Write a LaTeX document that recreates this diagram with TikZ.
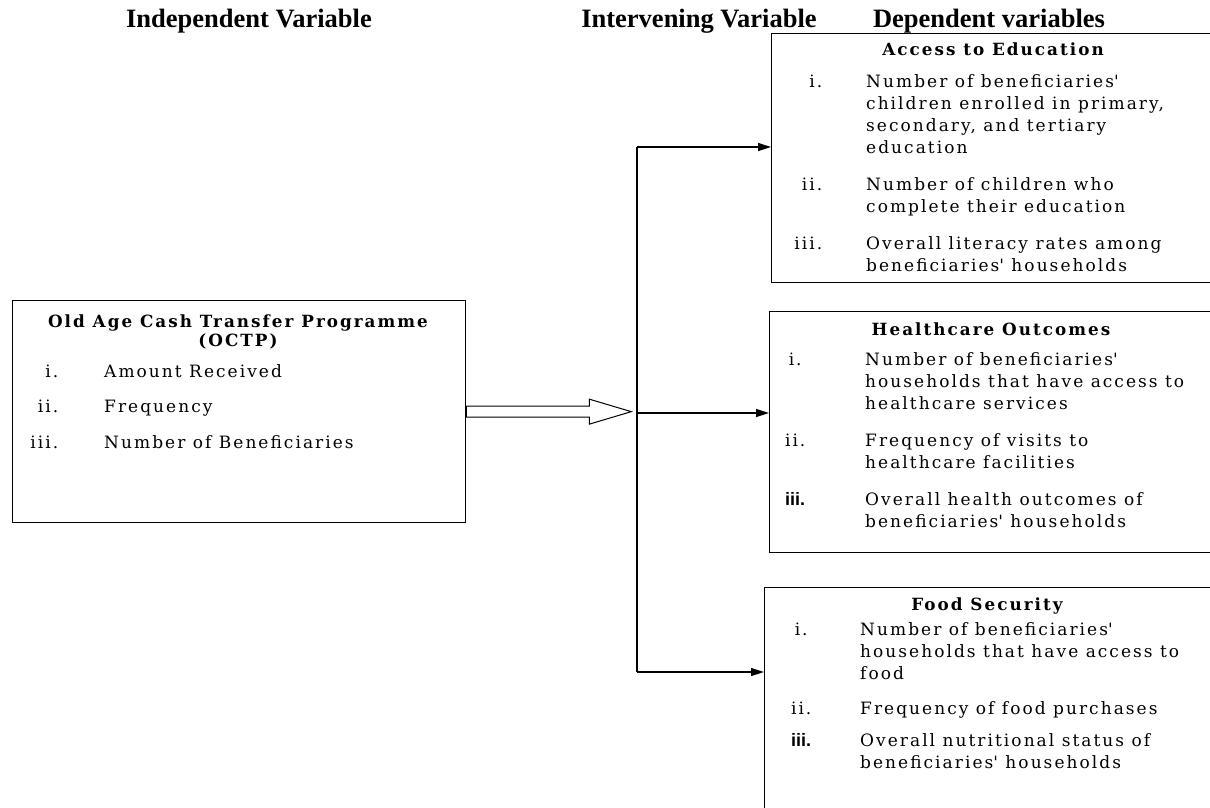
\documentclass[tikz,border=0pt]{standalone}
\usepackage{fontspec}
\setmainfont{Liberation Serif}
\newfontfamily\boxfont[LetterSpace=12]{DejaVu Serif}
\newfontfamily\numfont{Liberation Sans}
\usetikzlibrary{positioning,arrows.meta}

\newcommand{\lbl}[2][r]{\makebox[30pt][#1]{#2}}
\newcommand{\boldlbl}[1]{\makebox[30pt][c]{\numfont\bfseries\fontsize{18}{22}\selectfont #1}}
\newcommand{\apos}{\textquotesingle}

\begin{document}
\begin{tikzpicture}[x=1pt, y=-1pt,
    heading/.style={font=\fontsize{26.5}{30}\selectfont\bfseries, anchor=base, inner sep=0pt},
    varbox/.style={draw, line width=1.3pt, anchor=north west, inner sep=0pt},
    boxhead/.style={font=\boxfont\bfseries\fontsize{16.8}{19}\selectfont, anchor=base, inner sep=0pt},
    itemlist/.style={font=\boxfont\fontsize{17}{22}\selectfont, anchor=base west, inner sep=0pt},
    link/.style={line width=1.3pt, -{Triangle[length=13pt,width=8pt]}},
    trunk/.style={line width=1.3pt},
    fatarrow/.style={line width=1pt, fill=white}]
\clip (0,0) rectangle (1210,807);

% headings
\node[heading] (indep) at (249,27) {Independent Variable};
\node[heading] (interv) at (699,27) {Intervening Variable};
\node[heading] (dep) at (989,27) {Dependent variables};

% independent variable box
\node[varbox, minimum width=453, minimum height=222] (octp) at (12,300) {};
\node[boxhead] (octptitle) at (238,327) {\begin{tabular}[t]{@{}c@{}}Old Age Cash Transfer Programme\\(OCTP)\end{tabular}};
\node[itemlist] (octpitems) at (28,377) {\begin{tabular}[t]{@{}l@{\hspace{46pt}}l@{}}
  \lbl{i.} & Amount Received\\[13pt]
  \lbl{ii.} & Frequency\\[14pt]
  \lbl{iii.} & Number of Beneficiaries
\end{tabular}};

% dependent variable boxes
\node[varbox, minimum width=441, minimum height=249] (edu) at (771,33) {};
\node[boxhead] (edutitle) at (993,55) {Access to Education};
\node[itemlist] (eduitems) at (792,87) {\begin{tabular}[t]{@{}l@{\hspace{44pt}}l@{}}
  \lbl{i.} & Number of beneficiaries\apos\\
   & children enrolled in primary,\\
   & secondary, and tertiary\\
   & education\\[15pt]
  \lbl{ii.} & Number of children who\\
   & complete their education\\[15pt]
  \lbl{iii.} & Overall literacy rates among\\
   & beneficiaries\apos{} households
\end{tabular}};

\node[varbox, minimum width=443, minimum height=241] (health) at (769,311) {};
\node[boxhead] (healthtitle) at (991,335) {Healthcare Outcomes};
\node[itemlist] (healthitems) at (780,365) {\begin{tabular}[t]{@{}l@{\hspace{55pt}}l@{}}
  \lbl[c]{i.} & Number of beneficiaries\apos\\
   & households that have access to\\
   & healthcare services\\[15pt]
  \lbl[c]{ii.} & Frequency of visits to\\
   & healthcare facilities\\[15pt]
  \boldlbl{iii.} & Overall health outcomes of\\
   & beneficiaries\apos{} households
\end{tabular}};

\node[varbox, minimum width=448, minimum height=243] (food) at (764,587) {};
\node[boxhead] (foodtitle) at (987,610) {Food Security};
\node[itemlist] (fooditems) at (786,635) {\begin{tabular}[t]{@{}l@{\hspace{44pt}}l@{}}
  \lbl[c]{i.} & Number of beneficiaries\apos\\
   & households that have access to\\
   & food\\[13pt]
  \lbl[c]{ii.} & Frequency of food purchases\\[10pt]
  \boldlbl{iii.} & Overall nutritional status of\\
   & beneficiaries\apos{} households
\end{tabular}};

% connectors
\coordinate (top) at (637,147);
\coordinate (mid) at (637,413);
\coordinate (bot) at (637,672);
\draw[fatarrow] (octp.east) ++(0,-5.5) -- ++(123,0) -- ++(0,-7) -- ++(42,12.5)
  -- ++(-42,12.5) -- ++(0,-7) -- ++(-123,0) -- cycle;
\draw[trunk] (top) -- (bot);
\draw[link] (top) -- (top -| edu.west);
\draw[link] (mid) -- (mid -| health.west);
\draw[link] (bot) -- (bot -| food.west);
\end{tikzpicture}
\end{document}
